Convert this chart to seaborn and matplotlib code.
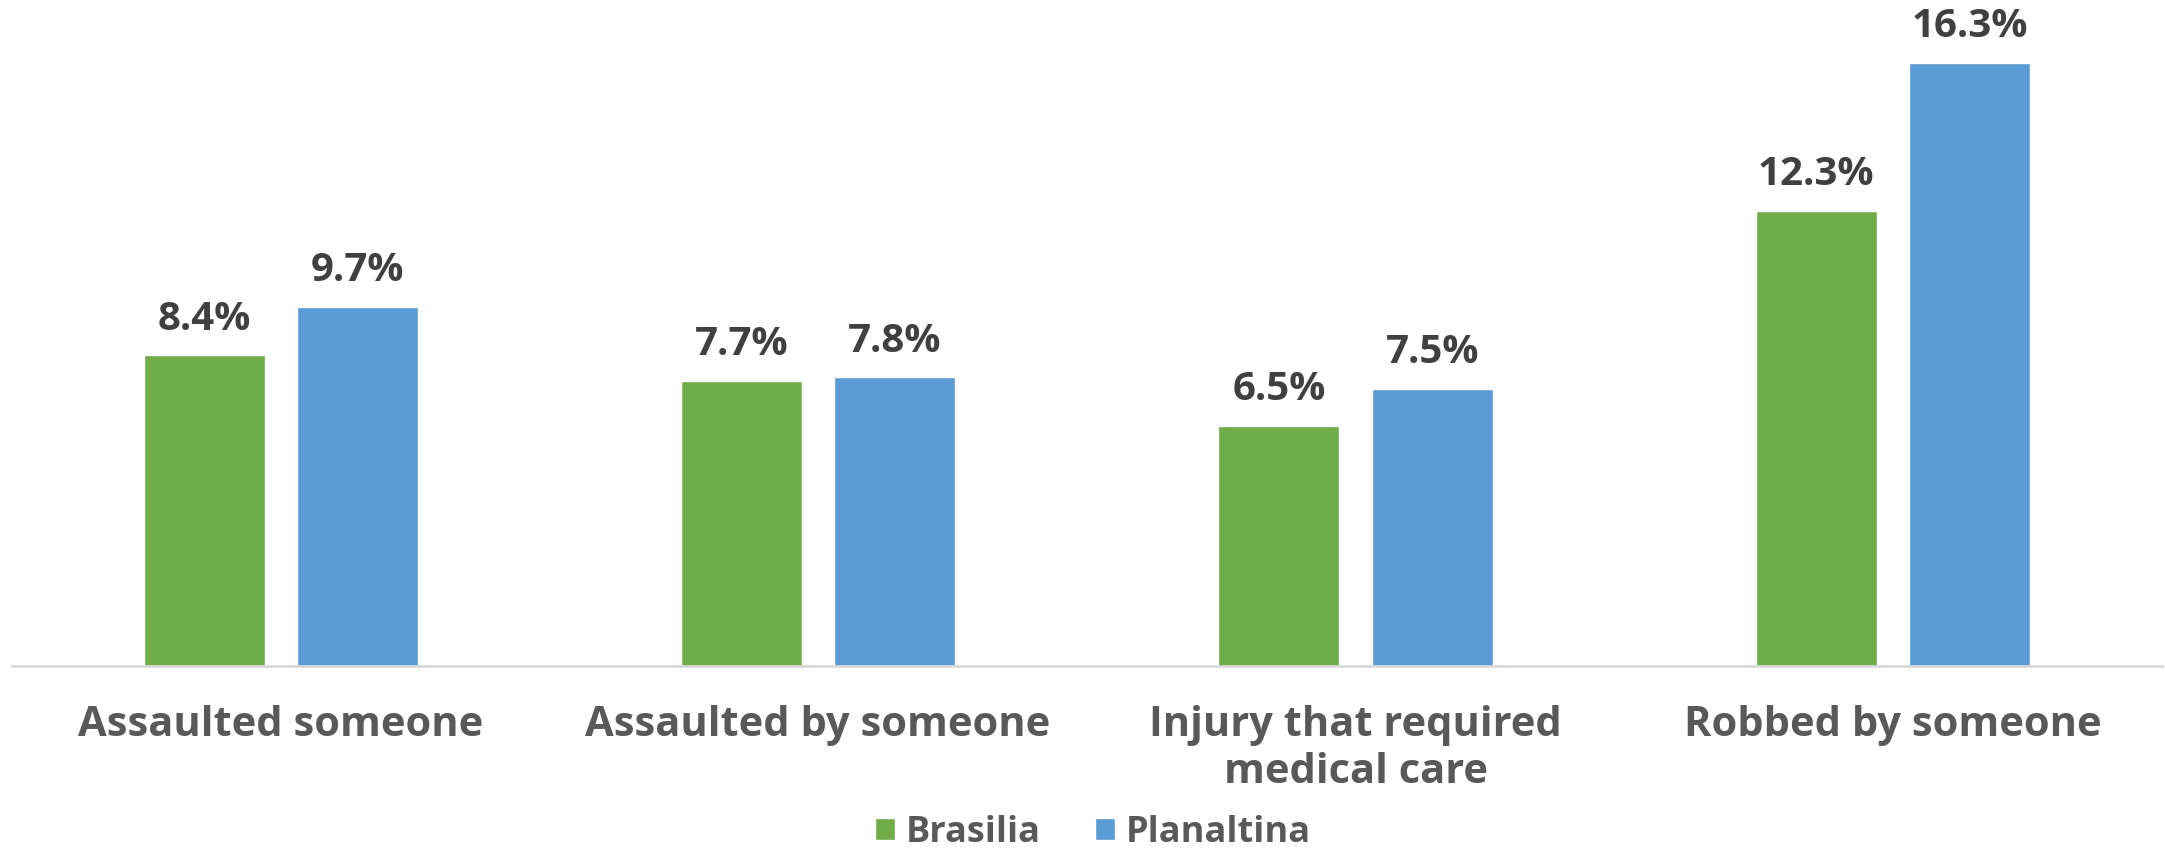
import pandas as pd
import matplotlib.pyplot as plt
import seaborn as sns

# dados
categorias = ['Assaulted someone', 'Assaulted by someone',
              'Injury that required\nmedical care', 'Robbed by someone']
brasilia = [8.4, 7.7, 6.5, 12.3]
planaltina = [9.7, 7.8, 7.5, 16.3]
cidades = ['Brasilia', 'Planaltina']
cores = ['#70ad47', '#5b9bd5']

df = pd.DataFrame({
    'categoria': categorias * 2,
    'cidade': [cidades[0]] * 4 + [cidades[1]] * 4,
    'valor': brasilia + planaltina,
})

sns.set_style('white')
plt.rcParams['font.family'] = ['Open Sans', 'DejaVu Sans']

fig = plt.figure(figsize=(21.65, 8.55), dpi=100)
ax = fig.add_axes([0.0055, 0.221, 0.993, 0.779])

sns.barplot(data=df, x='categoria', y='valor', hue='cidade', palette=cores,
            width=0.57, gap=0.21, ax=ax, saturation=1, legend=True)

for c in ax.containers:
    ax.bar_label(c, fmt='%.1f%%', padding=12, fontsize=29, fontweight='bold',
                 color='#404040')

ax.set_ylim(0, 18)
ax.set_xlim(-0.5, 3.5)
ax.set_yticks([])
ax.set_xlabel('')
ax.set_ylabel('')
for s in ['top', 'right', 'left']:
    ax.spines[s].set_visible(False)
ax.spines['bottom'].set_color('#d9d9d9')
ax.spines['bottom'].set_linewidth(2)
ax.tick_params(axis='x', length=0, pad=28, labelsize=30, labelcolor='#595959')
for t in ax.get_xticklabels():
    t.set_fontweight('bold')
    t.set_linespacing(1.2)

handles, labels = ax.get_legend_handles_labels()
ax.get_legend().remove()
fig.legend(handles, labels, loc='lower center', bbox_to_anchor=(0.505, -0.033),
           ncol=2, frameon=False, handlelength=0.55, handleheight=0.55,
           handletextpad=0.3, columnspacing=1.5,
           prop={'size': 26, 'weight': 'bold'}, labelcolor='#595959')

fig.savefig('out.png', dpi=100)
